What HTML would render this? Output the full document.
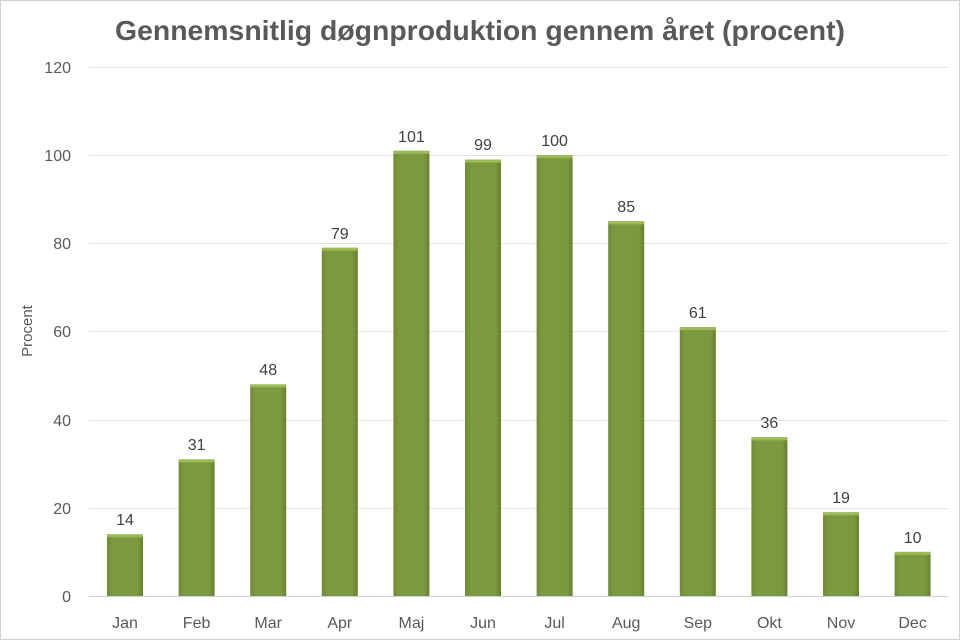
<!DOCTYPE html>
<html><head><style>body{margin:0;background:#fff}svg{display:block}</style></head><body>
<svg width="960" height="641" xmlns="http://www.w3.org/2000/svg" font-family="Liberation Sans, sans-serif">
<rect x="0.5" y="0.5" width="959" height="639" fill="#fff" stroke="#d0d0d0"/>
<defs><linearGradient id="g" x1="0" x2="1"><stop offset="0" stop-color="#6f8a36"/><stop offset="0.15" stop-color="#7b9a3f"/><stop offset="0.85" stop-color="#7b9a3f"/><stop offset="1" stop-color="#64802e"/></linearGradient></defs>
<text x="480" y="40" text-anchor="middle" font-size="28" font-weight="bold" fill="#595959" textLength="730" lengthAdjust="spacingAndGlyphs">Gennemsnitlig døgnproduktion gennem året (procent)</text>
<g stroke="#e3e3e3" stroke-width="1">
<line x1="89" x2="948" y1="67.5" y2="67.5"/><line x1="89" x2="948" y1="155.5" y2="155.5"/><line x1="89" x2="948" y1="243.5" y2="243.5"/><line x1="89" x2="948" y1="331.5" y2="331.5"/><line x1="89" x2="948" y1="420.5" y2="420.5"/><line x1="89" x2="948" y1="508.5" y2="508.5"/><line x1="89" x2="948" y1="596.5" y2="596.5" stroke="#d0d0d0"/>
</g>
<g font-size="16" fill="#595959" text-anchor="end">
<text x="71" y="73">120</text><text x="71" y="161">100</text><text x="71" y="249">80</text><text x="71" y="337">60</text><text x="71" y="426">40</text><text x="71" y="514">20</text><text x="71" y="602">0</text>
</g>
<text transform="translate(32,331) rotate(-90)" text-anchor="middle" font-size="15" fill="#595959">Procent</text>
<g fill="url(#g)">
<rect x="107" y="534.3" width="36" height="61.7"/>
<rect x="178.6" y="459.4" width="36" height="136.6"/>
<rect x="250.2" y="384.4" width="36" height="211.6"/>
<rect x="321.8" y="247.8" width="36" height="348.2"/>
<rect x="393.4" y="150.8" width="36" height="445.2"/>
<rect x="465" y="159.6" width="36" height="436.4"/>
<rect x="536.6" y="155.2" width="36" height="440.8"/>
<rect x="608.2" y="221.3" width="36" height="374.7"/>
<rect x="679.8" y="327.1" width="36" height="268.9"/>
<rect x="751.4" y="437.3" width="36" height="158.7"/>
<rect x="823" y="512.3" width="36" height="83.7"/>
<rect x="894.6" y="551.9" width="36" height="44.1"/>
</g>
<g fill="#9bbb59">
<rect x="107" y="534.3" width="36" height="3"/>
<rect x="178.6" y="459.4" width="36" height="3"/>
<rect x="250.2" y="384.4" width="36" height="3"/>
<rect x="321.8" y="247.8" width="36" height="3"/>
<rect x="393.4" y="150.8" width="36" height="3"/>
<rect x="465" y="159.6" width="36" height="3"/>
<rect x="536.6" y="155.2" width="36" height="3"/>
<rect x="608.2" y="221.3" width="36" height="3"/>
<rect x="679.8" y="327.1" width="36" height="3"/>
<rect x="751.4" y="437.3" width="36" height="3"/>
<rect x="823" y="512.3" width="36" height="3"/>
<rect x="894.6" y="551.9" width="36" height="3"/>
</g>
<g font-size="16" fill="#404040" text-anchor="middle">
<text x="125" y="525">14</text>
<text x="196.6" y="450">31</text>
<text x="268.2" y="375">48</text>
<text x="339.8" y="239">79</text>
<text x="411.4" y="142">101</text>
<text x="483" y="150">99</text>
<text x="554.6" y="146">100</text>
<text x="626.2" y="212">85</text>
<text x="697.8" y="318">61</text>
<text x="769.4" y="428">36</text>
<text x="841" y="503">19</text>
<text x="912.6" y="543">10</text>
</g>
<g font-size="16" fill="#595959" text-anchor="middle">
<text x="125" y="628">Jan</text>
<text x="196.6" y="628">Feb</text>
<text x="268.2" y="628">Mar</text>
<text x="339.8" y="628">Apr</text>
<text x="411.4" y="628">Maj</text>
<text x="483" y="628">Jun</text>
<text x="554.6" y="628">Jul</text>
<text x="626.2" y="628">Aug</text>
<text x="697.8" y="628">Sep</text>
<text x="769.4" y="628">Okt</text>
<text x="841" y="628">Nov</text>
<text x="912.6" y="628">Dec</text>
</g>
</svg>
</body></html>
